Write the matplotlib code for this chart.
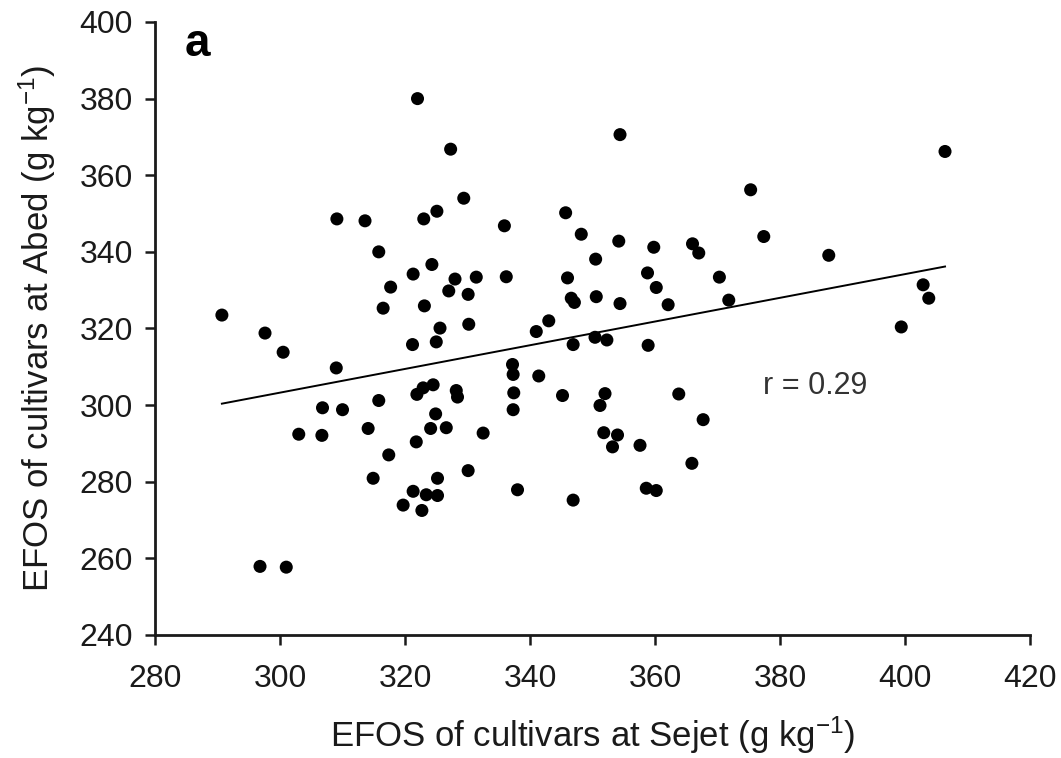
import matplotlib
matplotlib.use('Agg')
import matplotlib.pyplot as plt
import numpy as np

plt.rcParams['font.family'] = ['Liberation Sans', 'DejaVu Sans']
plt.rcParams['mathtext.fontset'] = 'custom'
plt.rcParams['mathtext.rm'] = 'Liberation Sans'
plt.rcParams['mathtext.default'] = 'regular'

# EFOS (g/kg): Sejet (x) vs Abed (y)
sejet = [322.0, 327.3, 329.4, 325.1, 323.0, 309.1, 313.6, 335.9, 345.7, 348.2,
         315.8, 324.3, 321.3, 328.0, 331.4, 336.2, 346.0, 317.7, 327.0, 330.1,
         346.6, 347.1, 316.5, 323.1, 330.2, 325.6, 290.7, 297.6, 300.5, 341.0,
         343.0, 321.2, 325.0, 346.9,
         354.4, 406.4, 375.3, 354.2, 377.4, 359.8, 366.0, 367.0, 387.8, 350.5,
         358.8, 360.2, 370.3, 350.6, 354.4, 362.1, 371.8, 402.9, 403.8, 399.4,
         350.4, 352.3, 358.9,
         309.0, 337.2, 337.3, 341.4, 324.5, 322.9, 321.9, 328.2, 328.4, 337.4,
         345.2, 337.3, 306.8, 310.0, 315.8, 324.9, 303.0, 306.7, 314.1, 324.1,
         326.6, 332.5, 321.8, 317.4, 314.9, 325.2, 330.1, 338.0, 346.9, 321.3,
         323.4, 325.2, 319.7, 322.7, 296.8, 301.0,
         352.0, 351.2, 363.8, 367.7, 351.8, 354.0, 353.2, 357.6, 365.9, 358.6,
         360.2]
abed = [380.0, 366.8, 354.0, 350.6, 348.6, 348.6, 348.1, 346.8, 350.2, 344.6,
        340.0, 336.7, 334.2, 332.9, 333.4, 333.5, 333.2, 330.8, 329.8, 328.9,
        327.9, 326.8, 325.3, 325.9, 321.1, 320.1, 323.5, 318.8, 313.8, 319.2,
        322.0, 315.8, 316.5, 315.8,
        370.6, 366.2, 356.2, 342.8, 344.0, 341.2, 342.1, 339.7, 339.1, 338.1,
        334.5, 330.7, 333.4, 328.3, 326.5, 326.2, 327.4, 331.4, 327.9, 320.4,
        317.7, 317.0, 315.6,
        309.7, 310.6, 308.0, 307.6, 305.3, 304.5, 302.8, 303.8, 302.1, 303.2,
        302.5, 298.8, 299.3, 298.8, 301.2, 297.7, 292.4, 292.1, 293.9, 293.9,
        294.1, 292.7, 290.4, 287.0, 280.9, 280.9, 282.9, 277.9, 275.2, 277.5,
        276.6, 276.4, 273.9, 272.5, 257.9, 257.7,
        303.0, 299.9, 302.9, 296.2, 292.8, 292.2, 289.1, 289.5, 284.8, 278.3,
        277.7]
r_label = 'r = 0.29'
xticks = [280, 300, 320, 340, 360, 380, 400, 420]
yticks = [240, 260, 280, 300, 320, 340, 360, 380, 400]

x = np.array(sejet)
y = np.array(abed)

fig = plt.figure(figsize=(10.61, 7.58), dpi=100)
ax = fig.add_axes([0.1461, 0.1623, 0.8247, 0.8087])

ax.scatter(x, y, s=88, color='black', edgecolors='none', zorder=3)

# least squares line over the data range
slope, icpt = np.polyfit(x, y, 1)
xl = np.array([x.min(), x.max()])
ax.plot(xl, slope * xl + icpt, color='black', lw=1.4)

ax.set_xlim(280, 420)
ax.set_ylim(240, 400)
ax.set_xticks(xticks)
ax.set_yticks(yticks)
ax.tick_params(direction='out', length=7, width=1.8, labelsize=23, colors='#1a1a1a')
ax.tick_params(axis='x', pad=14)
ax.tick_params(axis='y', pad=9)
for s in ['top', 'right']:
    ax.spines[s].set_visible(False)
for s in ['left', 'bottom']:
    ax.spines[s].set_linewidth(2)
    ax.spines[s].set_color('#1a1a1a')

ax.set_xlabel('EFOS of cultivars at Sejet (g kg$^{-1}$)', fontsize=25,
              color='#1a1a1a', va='center')
ax.xaxis.set_label_coords(0.5, -0.163)
ax.set_ylabel('EFOS of cultivars at Abed (g kg$^{-1}$)', fontsize=25,
              color='#1a1a1a', va='center')
ax.yaxis.set_label_coords(-0.135, 0.5)

ax.text(377.3, 302.9, r_label, fontsize=22, va='baseline', ha='left', color='#333333')
ax.text(284.8, 391.2, 'a', fontsize=33, fontweight='bold', va='baseline', ha='left')

fig.savefig('out.png', dpi=100)
